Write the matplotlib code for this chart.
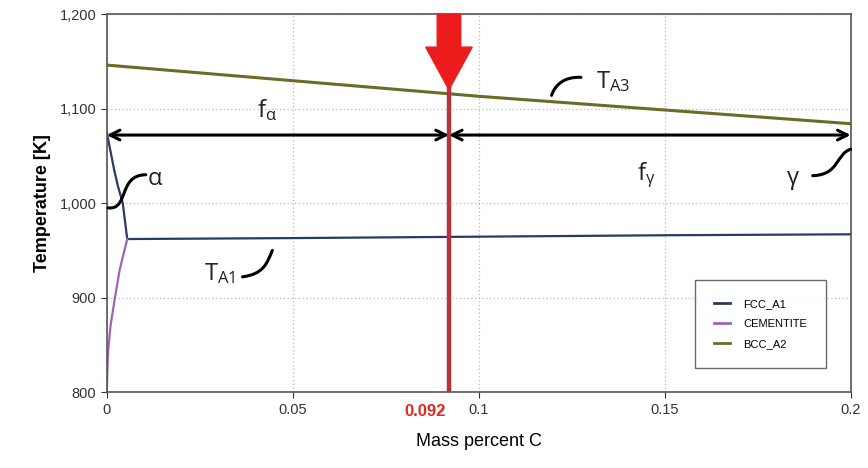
import matplotlib
matplotlib.use("Agg")
import matplotlib.pyplot as plt
from matplotlib.path import Path
from matplotlib.patches import PathPatch
from matplotlib.ticker import FuncFormatter

# phase boundary data (mass percent C, temperature K)
fcc_x = [0.0, 0.001, 0.002, 0.003, 0.0043, 0.0055, 0.05, 0.1, 0.15, 0.2]
fcc_T = [1075, 1055, 1035, 1018, 1000, 962, 963, 964.5, 966, 967]
cem_x = [0.0, 0.0003, 0.001, 0.0022, 0.0035, 0.0055]
cem_T = [800, 840, 870, 900, 930, 962]
bcc_x = [0.0, 0.1, 0.2]
bcc_T = [1146, 1113, 1084]

c_mark = 0.092
arrow_T = 1072

plt.rcParams["font.family"] = ["Liberation Sans", "DejaVu Sans"]
plt.rcParams["mathtext.fontset"] = "custom"
plt.rcParams["mathtext.rm"] = "Open Sans"
plt.rcParams["mathtext.it"] = "Open Sans"

fig = plt.figure(figsize=(8.68, 4.68), dpi=100)
ax = fig.add_axes([0.123, 0.162, 0.857, 0.808])

ax.plot(fcc_x, fcc_T, color="#2a3a62", lw=1.6, label="FCC_A1")
ax.plot(cem_x, cem_T, color="#a064b4", lw=1.6, label="CEMENTITE")
ax.plot(bcc_x, bcc_T, color="#6b6b2a", lw=2.2, label="BCC_A2")

ax.set_xlim(0, 0.2)
ax.set_ylim(800, 1200)
ax.set_xticks([0, 0.05, 0.1, 0.15, 0.2])
ax.set_xticklabels(["0", "0.05", "0.1", "0.15", "0.2"])
ax.set_yticks([800, 900, 1000, 1100, 1200])
ax.yaxis.set_major_formatter(FuncFormatter(lambda v, p: f"{v:,.0f}"))
ax.grid(True, linestyle=(0, (1, 2)), color="#b8b8b8", lw=0.9)
for s in ax.spines.values():
    s.set_color("#555555")
    s.set_linewidth(1.2)
ax.tick_params(labelsize=10.5, colors="#333333", length=4)

ax.set_xlabel("Mass percent C", fontsize=13, labelpad=12)
ax.set_ylabel("Temperature [K]", fontsize=13, fontweight="bold", labelpad=6)

# marker line and big arrow
ax.axvline(c_mark, color="#b8323a", lw=3.2, zorder=4)
ax.arrow(c_mark, 1200, 0, -80, width=0.0063, head_width=0.0125, head_length=45,
         length_includes_head=True, color="#ec1c1c", zorder=5, clip_on=False)
ax.text(c_mark - 0.0065, -0.052, "0.092", color="#e3261f", fontsize=12, fontweight="bold",
        ha="center", va="center", transform=ax.get_xaxis_transform(),
        bbox=dict(facecolor="white", edgecolor="none", pad=1))

# double arrows
akw = dict(arrowstyle="<->,head_length=0.7,head_width=0.35", color="black", lw=2.2,
           shrinkA=0, shrinkB=0)
ax.annotate("", xy=(0, arrow_T), xytext=(c_mark, arrow_T), arrowprops=akw, zorder=6)
ax.annotate("", xy=(c_mark, arrow_T), xytext=(0.2, arrow_T), arrowprops=akw, zorder=6)

# labels
tkw = dict(fontsize=17, family=["Open Sans", "DejaVu Sans"], color="#222222")
ax.text(0.043, 1098, r"f$_{\mathrm{α}}$", ha="center", va="center", **tkw)
ax.text(0.145, 1030, r"f$_{\mathrm{γ}}$", ha="center", va="center", **tkw)
ax.text(0.013, 1026, "α", ha="center", va="center", **tkw)
ax.text(0.1845, 1027, "γ", ha="center", va="center", **tkw)
ax.text(0.0305, 925, r"T$_{\mathrm{A1}}$", ha="center", va="center", **tkw)
ax.text(0.136, 1129, r"T$_{\mathrm{A3}}$", ha="center", va="center", **tkw)

# hand-drawn connector squiggles
def squiggle(p0, c1, c2, p1):
    path = Path([p0, c1, c2, p1], [Path.MOVETO, Path.CURVE4, Path.CURVE4, Path.CURVE4])
    ax.add_patch(PathPatch(path, fill=False, lw=2.2, color="black", zorder=6,
                           clip_on=False, capstyle="round"))

squiggle((0.0003, 995), (0.006, 992), (0.003, 1030), (0.0105, 1030))
squiggle((0.0365, 922), (0.042, 925), (0.043, 935), (0.0445, 950))
squiggle((0.1196, 1114), (0.1205, 1125), (0.123, 1134), (0.1275, 1133))
squiggle((0.1898, 1029), (0.197, 1030), (0.196, 1052), (0.2, 1057))

leg = ax.legend(loc="lower right", bbox_to_anchor=(0.974, 0.05), fontsize=8,
                frameon=True, fancybox=False, borderpad=1.7, handlelength=1.4,
                handletextpad=1.2, labelspacing=0.9, edgecolor="#444444")
leg.get_frame().set_linewidth(1.0)
for h in leg.get_lines():
    h.set_linewidth(2.0)

fig.savefig("out.png", dpi=100)
